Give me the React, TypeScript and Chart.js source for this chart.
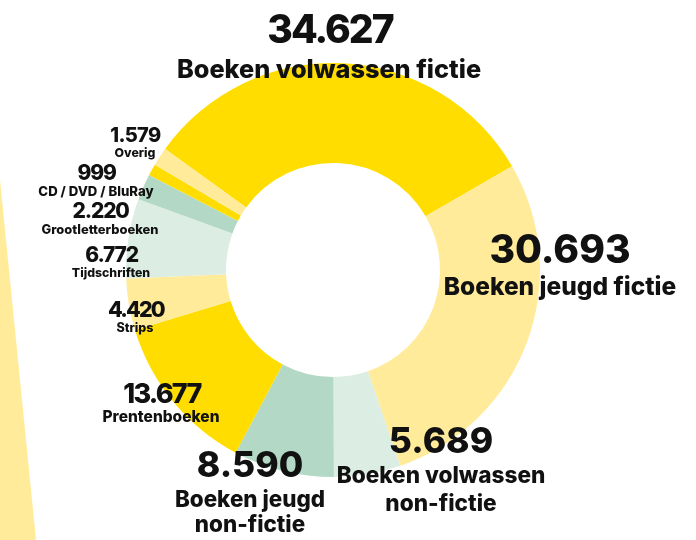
import React, { useEffect, useRef } from "react";
import { Chart, registerables } from "chart.js";

Chart.register(...registerables);

const categories = [
  "Boeken volwassen fictie",
  "Boeken jeugd fictie",
  "Boeken volwassen non-fictie",
  "Boeken jeugd non-fictie",
  "Prentenboeken",
  "Strips",
  "Tijdschriften",
  "Grootletterboeken",
  "CD / DVD / BluRay",
  "Overig",
];
const values = [34627, 30693, 5689, 8590, 13677, 4420, 6772, 2220, 999, 1579];
const valueLabels = ["34.627", "30.693", "5.689", "8.590", "13.677", "4.420", "6.772", "2.220", "999", "1.579"];
const nameLines = [
  ["Boeken volwassen fictie"],
  ["Boeken jeugd fictie"],
  ["Boeken volwassen", "non-fictie"],
  ["Boeken jeugd", "non-fictie"],
  ["Prentenboeken"],
  ["Strips"],
  ["Tijdschriften"],
  ["Grootletterboeken"],
  ["CD / DVD / BluRay"],
  ["Overig"],
];

const YELLOW = "#FFDD00";
const LIGHT_YELLOW = "#FFEB99";
const MINT = "#B3D9C6";
const LIGHT_MINT = "#DCEDE3";
const colors = [YELLOW, LIGHT_YELLOW, LIGHT_MINT, MINT, YELLOW, LIGHT_YELLOW, LIGHT_MINT, MINT, YELLOW, LIGHT_YELLOW];

// label layout: center x, value baseline, value size, value letter spacing, name baselines, name size
const layout = [
  { x: 329, vy: 43, vs: 39, vl: -2, ny: [78], ns: 25.3 },
  { x: 560, vy: 263, vs: 39, vl: 0, ny: [295], ns: 24.5 },
  { x: 441, vy: 453, vs: 35.5, vl: 0, ny: [483, 511], ns: 22.6 },
  { x: 250, vy: 477, vs: 35.5, vl: 0, ny: [507, 532], ns: 22.4 },
  { x: 161, vy: 403, vs: 27, vl: -1.8, ny: [422], ns: 15.5 },
  { x: 135, vy: 317, vs: 21.5, vl: -1.8, ny: [332], ns: 12.5 },
  { x: 111, vy: 262, vs: 21, vl: -1.2, ny: [277], ns: 12.3 },
  { x: 100, vy: 218, vs: 21, vl: -1.2, ny: [234], ns: 12.9 },
  { x: 96, vy: 180, vs: 21, vl: -1.2, ny: [196], ns: 13.2 },
  { x: 135, vy: 142, vs: 20, vl: -0.7, ny: [157], ns: 12.3 },
];

const FONT = "Inter, Lato, sans-serif";

const labelPlugin = {
  id: "labels",
  afterDraw(chart: any) {
    const ctx = chart.ctx;
    ctx.save();
    ctx.fillStyle = "#111111";
    ctx.textAlign = "center";
    ctx.textBaseline = "alphabetic";
    layout.forEach((l, i) => {
      ctx.font = `800 ${l.vs}px ${FONT}`;
      ctx.letterSpacing = `${l.vl}px`;
      ctx.fillText(valueLabels[i], l.x - l.vl / 2, l.vy);
      ctx.letterSpacing = "0px";
      ctx.font = `800 ${l.ns}px ${FONT}`;
      nameLines[i].forEach((t, j) => ctx.fillText(t, l.x, l.ny[j]));
    });
    ctx.restore();
  },
};

export default function App() {
  const ref = useRef<HTMLCanvasElement>(null);
  useEffect(() => {
    if (!ref.current) return;
    const chart = new Chart(ref.current, {
      type: "doughnut",
      data: {
        labels: categories,
        datasets: [
          {
            data: values,
            backgroundColor: colors,
            borderWidth: 0,
          },
        ],
      },
      options: {
        responsive: false,
        animation: false,
        rotation: -54.2,
        cutout: "51.7%",
        layout: { padding: { left: 126, right: 156, top: 63, bottom: 63 } },
        plugins: { legend: { display: false }, tooltip: { enabled: false } },
      },
      plugins: [labelPlugin],
    });
    return () => chart.destroy();
  }, []);
  return (
    <div style={{ position: "fixed", left: 0, top: 0, width: 696, height: 540, background: "#fff" }}>
      <div
        style={{
          position: "absolute",
          left: 0,
          top: 0,
          width: 696,
          height: 540,
          background: LIGHT_YELLOW,
          clipPath: "polygon(0px 180px, 36px 540px, 0px 540px)",
        }}
      />
      <canvas ref={ref} width={696} height={540} style={{ position: "absolute", left: 0, top: 0 }} />
    </div>
  );
}
